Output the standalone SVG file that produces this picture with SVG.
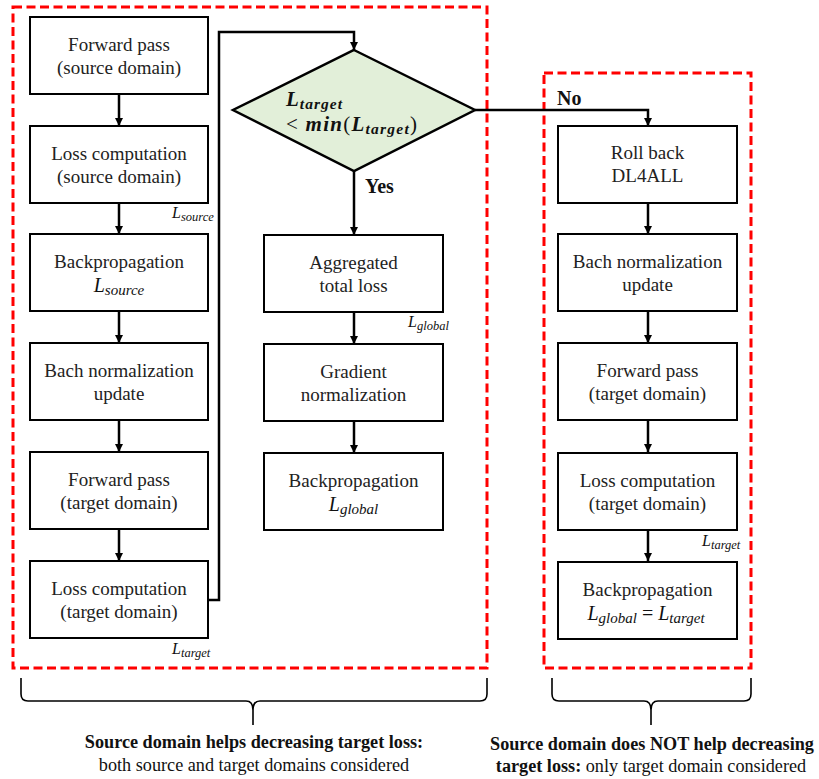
<svg xmlns="http://www.w3.org/2000/svg" width="819" height="779" viewBox="0 0 819 779">
<style>
text{font-family:"Liberation Serif","DejaVu Serif",serif}
.box{fill:#fff;stroke:#000;stroke-width:2}
.t{font-size:19px;fill:#222;text-anchor:middle}
.m{font-style:italic;fill:#111}
.c{fill:none;stroke:#000;stroke-width:2.5}
.dash{fill:none;stroke:#ff0000;stroke-width:3;stroke-dasharray:9 4.5}
.br{fill:none;stroke:#000;stroke-width:1.6}
.b{font-size:18.2px;fill:#111;text-anchor:middle}
.lbl{font-size:20px;font-weight:bold;fill:#111}
</style>
<defs>
<marker id="ah" viewBox="0 0 10 10" refX="10" refY="5" markerWidth="8" markerHeight="9" markerUnits="userSpaceOnUse" orient="auto">
<path d="M0,0 L10,5 L0,10 z" fill="#000"/>
</marker>
</defs>

<g id="regions">
<rect class="dash" x="13" y="7" width="474" height="661"/>
<rect class="dash" x="544" y="73" width="207" height="595"/>
</g>

<g id="connectors">
<path class="c" marker-end="url(#ah)" d="M119,94 V126"/>
<path class="c" marker-end="url(#ah)" d="M119,203 V234"/>
<path class="c" marker-end="url(#ah)" d="M119,311 V343"/>
<path class="c" marker-end="url(#ah)" d="M119,420 V452"/>
<path class="c" marker-end="url(#ah)" d="M119,529 V561"/>
<path class="c" marker-end="url(#ah)" d="M208,600 H219 V32 H354 V50"/>
<path class="c" marker-end="url(#ah)" d="M354,171 V235"/>
<path class="c" marker-end="url(#ah)" d="M354,312 V344"/>
<path class="c" marker-end="url(#ah)" d="M354,421 V453"/>
<path class="c" marker-end="url(#ah)" d="M475,110 H648 V126"/>
<path class="c" marker-end="url(#ah)" d="M648,203 V234"/>
<path class="c" marker-end="url(#ah)" d="M648,311 V343"/>
<path class="c" marker-end="url(#ah)" d="M648,420 V452"/>
<path class="c" marker-end="url(#ah)" d="M648,529 V561"/>
<text class="lbl" x="557" y="105">No</text>
<text class="lbl" x="365" y="193">Yes</text>
<text class="m" x="172" y="218" font-size="16">L<tspan font-size="12.5" dy="3">source</tspan></text>
<text class="m" x="172" y="654" font-size="16">L<tspan font-size="12.5" dy="3">target</tspan></text>
<text class="m" x="408" y="327" font-size="16">L<tspan font-size="12.5" dy="3">global</tspan></text>
<text class="m" x="702" y="546" font-size="16">L<tspan font-size="12.5" dy="3">target</tspan></text>
</g>

<g id="n1"><rect class="box" x="30" y="17" width="178" height="77"/><text class="t" x="119" y="51">Forward pass</text><text class="t" x="119" y="74">(source domain)</text></g>
<g id="n2"><rect class="box" x="30" y="126" width="178" height="77"/><text class="t" x="119" y="160">Loss computation</text><text class="t" x="119" y="183">(source domain)</text></g>
<g id="n3"><rect class="box" x="30" y="234" width="178" height="77"/><text class="t" x="119" y="268">Backpropagation</text><text class="m" x="119" y="292" font-size="20" text-anchor="middle">L<tspan font-size="15" dy="3">source</tspan></text></g>
<g id="n4"><rect class="box" x="30" y="343" width="178" height="77"/><text class="t" x="119" y="377">Bach normalization</text><text class="t" x="119" y="400">update</text></g>
<g id="n5"><rect class="box" x="30" y="452" width="178" height="77"/><text class="t" x="119" y="486">Forward pass</text><text class="t" x="119" y="509">(target domain)</text></g>
<g id="n6"><rect class="box" x="30" y="561" width="178" height="77"/><text class="t" x="119" y="595">Loss computation</text><text class="t" x="119" y="618">(target domain)</text></g>

<g id="decision">
<polygon points="354,50 475,110 354,171 233,110" fill="#e2efd9" stroke="#000" stroke-width="2.5"/>
<text class="m" x="286" y="106" font-size="21" font-weight="bold" textLength="56" lengthAdjust="spacing">L<tspan font-size="15.5" dy="3">target</tspan></text>
<text class="m" x="286" y="131" font-size="21" font-weight="bold" textLength="131" lengthAdjust="spacing"><tspan font-style="normal" font-weight="normal">&lt; </tspan>min<tspan font-style="normal" font-weight="normal">(</tspan>L<tspan font-size="15.5" dy="3">target</tspan><tspan font-style="normal" font-weight="normal" dy="-3">)</tspan></text>
</g>

<g id="m1"><rect class="box" x="264" y="235" width="179" height="77"/><text class="t" x="353.5" y="269">Aggregated</text><text class="t" x="353.5" y="292">total loss</text></g>
<g id="m2"><rect class="box" x="264" y="344" width="179" height="77"/><text class="t" x="353.5" y="378">Gradient</text><text class="t" x="353.5" y="401">normalization</text></g>
<g id="m3"><rect class="box" x="264" y="453" width="179" height="77"/><text class="t" x="353.5" y="487">Backpropagation</text><text class="m" x="353.5" y="511" font-size="20" text-anchor="middle">L<tspan font-size="15" dy="3">global</tspan></text></g>

<g id="r1"><rect class="box" x="558" y="126" width="179" height="77"/><text class="t" x="647.5" y="159">Roll back</text><text class="t" x="647.5" y="182">DL4ALL</text></g>
<g id="r2"><rect class="box" x="558" y="234" width="179" height="77"/><text class="t" x="647.5" y="268">Bach normalization</text><text class="t" x="647.5" y="291">update</text></g>
<g id="r3"><rect class="box" x="558" y="343" width="179" height="77"/><text class="t" x="647.5" y="377">Forward pass</text><text class="t" x="647.5" y="400">(target domain)</text></g>
<g id="r4"><rect class="box" x="558" y="453" width="179" height="77"/><text class="t" x="647.5" y="487">Loss computation</text><text class="t" x="647.5" y="510">(target domain)</text></g>
<g id="r5"><rect class="box" x="558" y="562" width="179" height="77"/><text class="t" x="647.5" y="596">Backpropagation</text><text class="m" x="646" y="620" font-size="20" text-anchor="middle">L<tspan font-size="15" dy="3">global</tspan><tspan dy="-3" font-style="normal"> = </tspan>L<tspan font-size="15" dy="3">target</tspan></text></g>

<g id="braces">
<path class="br" d="M21,678 V694 Q21,701 28,701 H246 Q253,701 253,710 V725 M253,710 Q253,701 260,701 H480 Q487,701 487,694 V678"/>
<path class="br" d="M552,678 V694 Q552,701 559,701 H644 Q651,701 651,710 V725 M651,710 Q651,701 658,701 H744 Q751,701 751,694 V678"/>
<text class="b" x="254" y="748" font-weight="bold">Source domain helps decreasing target loss:</text>
<text class="b" x="254" y="771">both source and target domains considered</text>
<text class="b" x="652" y="750" font-weight="bold">Source domain does NOT help decreasing</text>
<text class="b" x="651" y="772"><tspan font-weight="bold">target loss:</tspan> only target domain considered</text>
</g>
</svg>
